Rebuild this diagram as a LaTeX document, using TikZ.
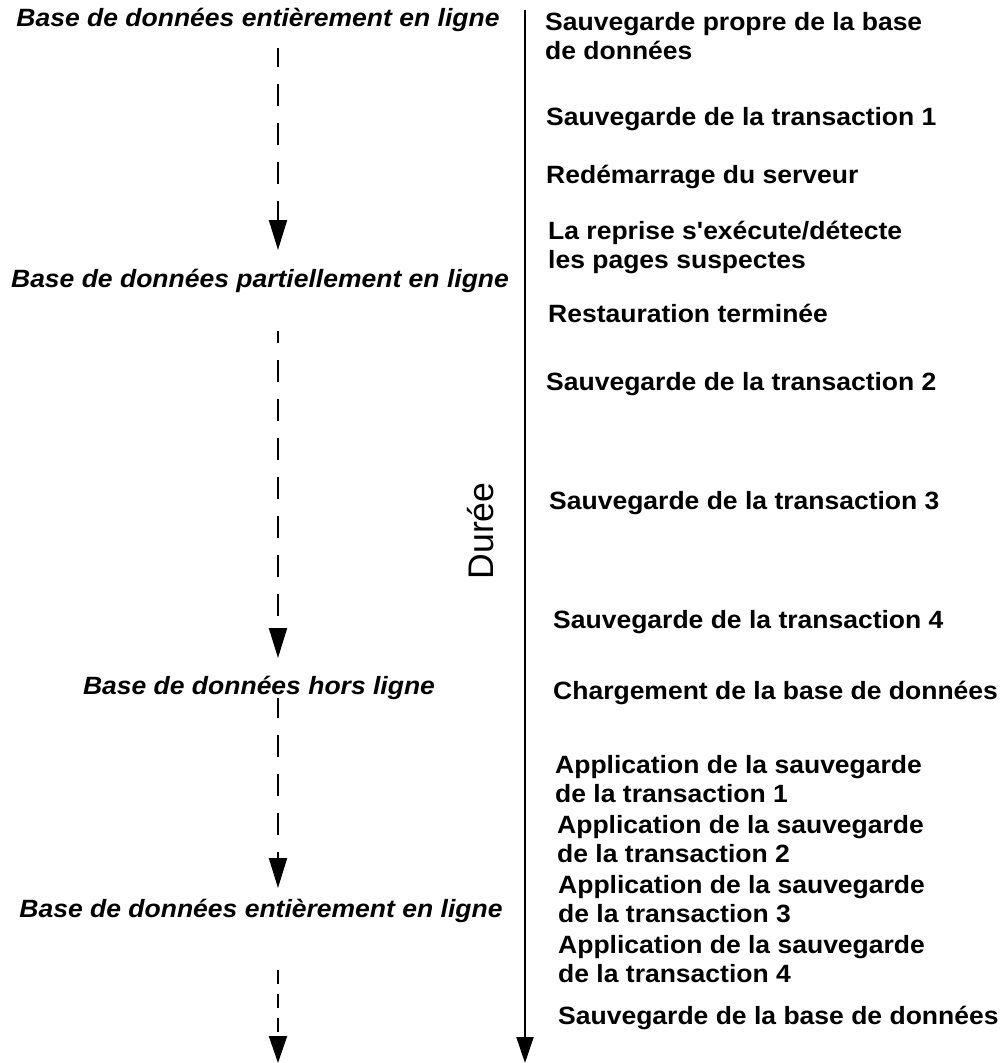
\documentclass[tikz,border=0pt]{standalone}
\usepackage{fontspec}
\setmainfont{Liberation Sans}[FakeStretch=1.06, Ligatures=TeXOff]
\newfontfamily\axisfont{Liberation Sans}
\usetikzlibrary{arrows.meta}
\begin{document}
\begin{tikzpicture}[x=1pt, y=-1pt,
  state/.style={font=\fontsize{25}{29}\selectfont\bfseries\itshape, inner sep=0pt, anchor=base},
  event/.style={font=\fontsize{25}{29}\selectfont\bfseries, inner sep=0pt, anchor=base west, align=left},
  timeline/.style={line width=2pt, -{Triangle[length=26pt, width=17pt]}},
  flow/.style={line width=2pt, dash pattern=on 22pt off 17pt, -{Triangle[length=30pt, width=18pt]}},
]
\useasboundingbox (0,0) rectangle (1007,1063);

% database states (left column)
\node[state] (s1) at (258,26)  {Base de données entièrement en ligne};
\node[state] (s2) at (260,287) {Base de données partiellement en ligne};
\node[state] (s3) at (259,694) {Base de données hors ligne};
\node[state] (s4) at (261,917) {Base de données entièrement en ligne};

% dashed transitions between states
\coordinate (xd) at (278,0);
\coordinate (send) at (278,1063);
\draw[flow, dash phase=3pt]  ([yshift=-22pt]s1.base -| xd) -- ([yshift=37pt]s2.base -| xd);
\draw[flow, dash phase=10pt] ([yshift=-44pt]s2.base -| xd) -- ([yshift=36pt]s3.base -| xd);
\draw[flow, dash phase=2pt]  ([yshift=-4pt]s3.base -| xd)  -- ([yshift=29pt]s4.base -| xd);
\draw[flow, dash pattern=on 14pt off 10pt, -{Triangle[length=27pt, width=18pt]}]
  ([yshift=-53pt]s4.base -| xd) -- (send);

% time axis
\coordinate (ttop) at (525,10);
\coordinate (tbot) at (525,1063);
\draw[timeline] (ttop) -- (tbot);
\node[font=\axisfont\fontsize{35.6}{40}\selectfont, rotate=90, anchor=base, inner sep=0pt] (dur) at (493,531) {Durée};

% events (right column); multi-line nodes are placed by their last baseline
\node[event] (e1)  at (545,59.5) {Sauvegarde propre de la base\\de données};
\node[event] (e2)  at (546,125) {Sauvegarde de la transaction 1};
\node[event] (e3)  at (546,183) {Redémarrage du serveur};
\node[event] (e4)  at (548,268.5) {La reprise s'exécute/détecte\\les pages suspectes};
\node[event] (e5)  at (548,322) {Restauration terminée};
\node[event] (e6)  at (546,390) {Sauvegarde de la transaction 2};
\node[event] (e7)  at (549,509) {Sauvegarde de la transaction 3};
\node[event] (e8)  at (553,628) {Sauvegarde de la transaction 4};
\node[event] (e9)  at (553,699) {Chargement de la base de données};
\node[event] (e10) at (555,802) {Application de la sauvegarde\\de la transaction 1};
\node[event] (e11) at (557,862) {Application de la sauvegarde\\de la transaction 2};
\node[event] (e12) at (558,922) {Application de la sauvegarde\\de la transaction 3};
\node[event] (e13) at (558,982) {Application de la sauvegarde\\de la transaction 4};
\node[event] (e14) at (558,1024) {Sauvegarde de la base de données};
\end{tikzpicture}
\end{document}
